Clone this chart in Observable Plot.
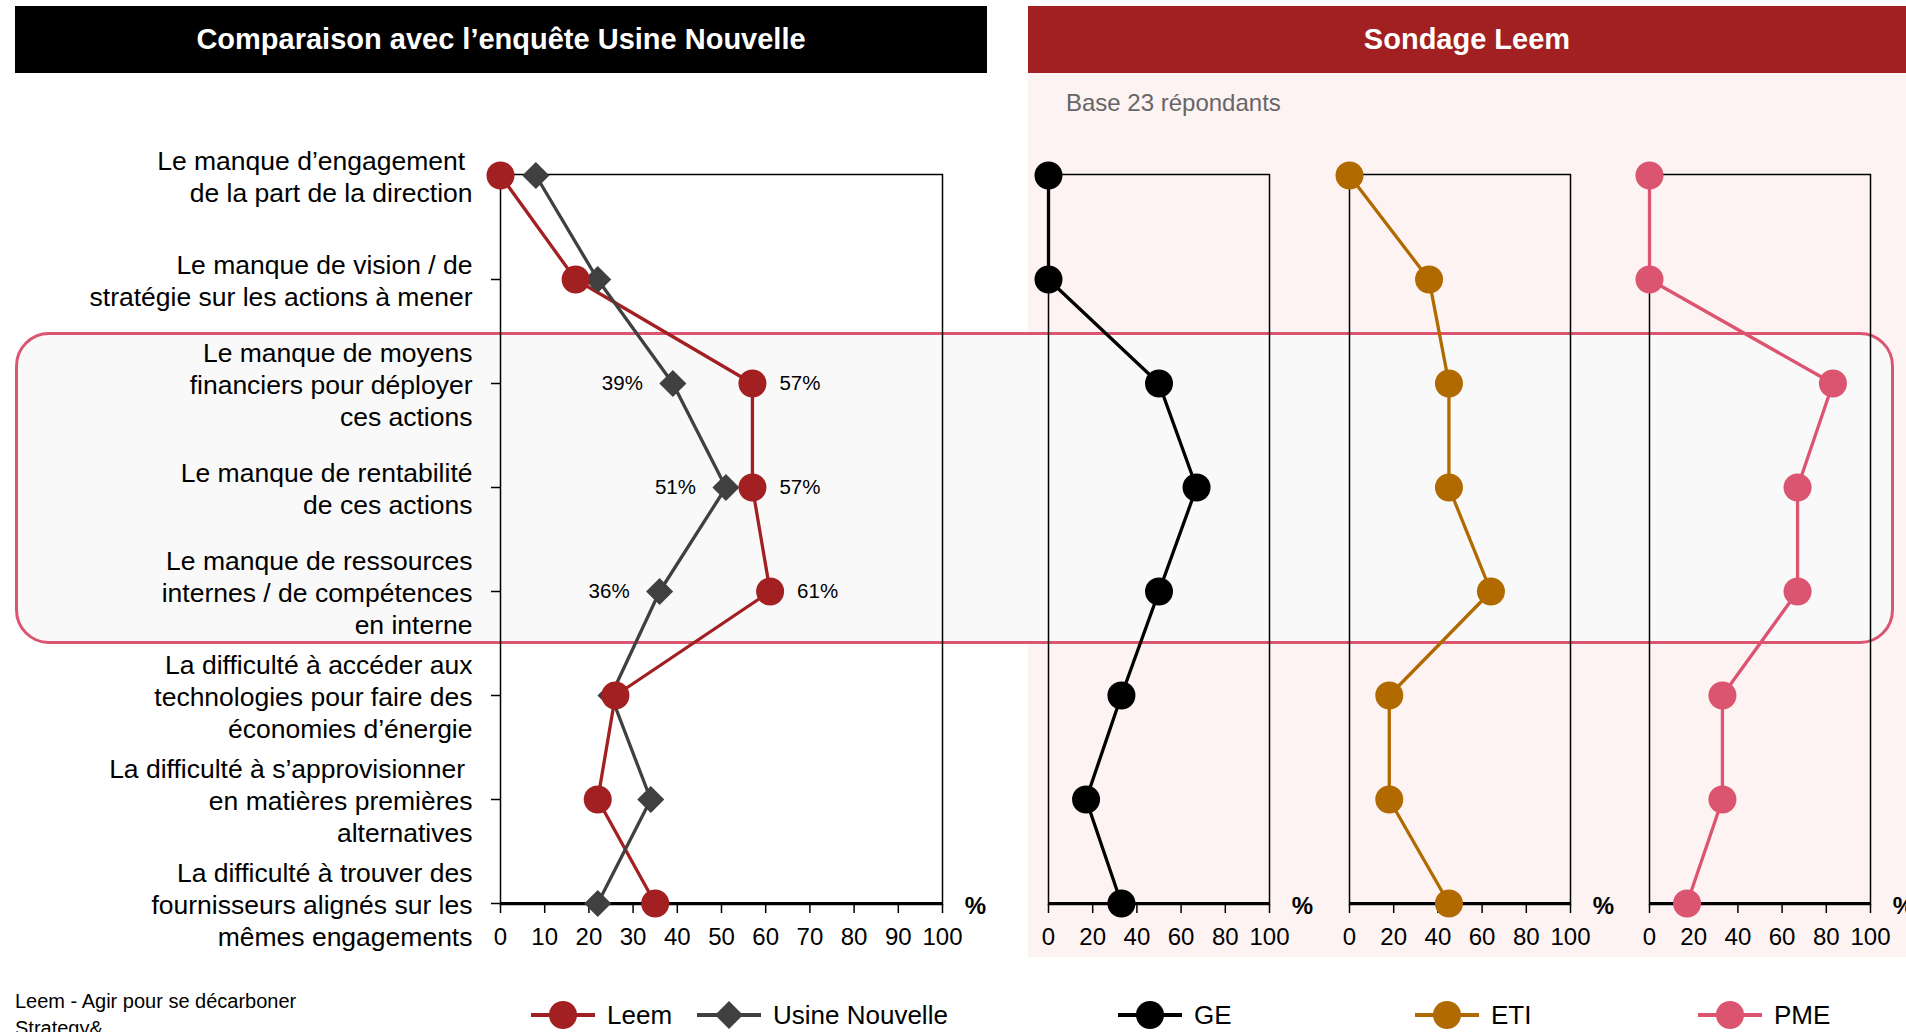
<!DOCTYPE html>
<html><head><meta charset="utf-8">
<script src="https://cdn.jsdelivr.net/npm/d3@7"></script>
<script src="https://cdn.jsdelivr.net/npm/@observablehq/plot@0.6"></script>
<style>
html,body{margin:0;padding:0;width:1906px;height:1032px;overflow:hidden;background:#fff;font-family:"Liberation Sans",Arial,sans-serif;}
#root{position:relative;width:1906px;height:1032px;overflow:hidden;}
.abs{position:absolute;}
.chart svg{max-width:none !important;}
.hdr{position:absolute;top:6px;height:67px;display:flex;align-items:center;justify-content:center;color:#fff;font-weight:bold;font-size:29px;}
.leg{position:absolute;top:999px;height:32px;display:flex;align-items:center;font-size:26px;color:#000;white-space:nowrap;}
.leg svg{margin-right:12px;}
.foot{position:absolute;left:15px;font-size:20px;color:#000;white-space:nowrap;}
</style></head><body><div id="root">
<div class="abs" style="left:1028px;top:73px;width:878px;height:884px;background:#fdf3f3;"></div>
<div class="abs" style="left:15px;top:332px;width:1873px;height:306px;background:#f9f9f9;border:3px solid #dc5570;border-radius:34px;"></div>
<div class="hdr" style="left:15px;width:972px;background:#000;">Comparaison avec l’enquête Usine Nouvelle</div>
<div class="hdr" style="left:1028px;width:878px;background:#a21f22;">Sondage Leem</div>
<div class="abs" style="left:1066px;top:89px;font-size:24px;color:#666;">Base 23 répondants</div>
<div id="cLeft" class="abs chart" style="left:0;top:100px;width:1010px;height:880px;"></div>
<div id="cGE" class="abs chart" style="left:1028px;top:100px;width:301px;height:880px;"></div>
<div id="cETI" class="abs chart" style="left:1329px;top:100px;width:301px;height:880px;"></div>
<div id="cPME" class="abs chart" style="left:1629px;top:100px;width:301px;height:880px;"></div>
<div id="legend"></div>
<div class="foot" style="top:990px;">Leem - Agir pour se décarboner</div>
<div class="foot" style="top:1017px;">Strategy&amp;</div>
</div>
<script>
const categories = [
  "Le manque d’engagement\u00a0\nde la part de la direction",
  "Le manque de vision / de\nstratégie sur les actions à mener",
  "Le manque de moyens\nfinanciers pour déployer\nces actions",
  "Le manque de rentabilité\nde ces actions",
  "Le manque de ressources\ninternes / de compétences\nen interne",
  "La difficulté à accéder aux\ntechnologies pour faire des\néconomies d’énergie",
  "La difficulté à s’approvisionner\u00a0\nen matières premières\nalternatives",
  "La difficulté à trouver des\nfournisseurs alignés sur les\nmêmes engagements"
];
const leem          = [0, 17, 57, 57, 61, 26, 22, 35];
const usineNouvelle = [8, 22, 39, 51, 36, 25, 34, 22];
const ge  = [0, 0, 50, 67, 50, 33, 17, 33];
const eti = [0, 36, 45, 45, 64, 18, 18, 45];
const pme = [0, 0, 83, 67, 67, 33, 33, 17];
const labelledRows = [2, 3, 4];
const ticksLeft  = [0, 10, 20, 30, 40, 50, 60, 70, 80, 90, 100];
const ticksRight = [0, 20, 40, 60, 80, 100];
const seriesNames = ["Leem", "Usine Nouvelle", "GE", "ETI", "PME"];

const RED = "#a21f22", GRAY = "#404040", BLACK = "#000000", ORANGE = "#b06a00", PINK = "#dc5570";
const FONT = '"Liberation Sans", Arial, sans-serif';

const rows = categories.map((c, i) => ({cat: c, i, leem: leem[i], un: usineNouvelle[i], ge: ge[i], eti: eti[i], pme: pme[i]}));
const lastCat = categories[categories.length - 1];
const styleOpt = {fontFamily: FONT, fontSize: "24px", background: "transparent", color: "#000", overflow: "visible", maxWidth: "none"};

const left = Plot.plot({
  width: 1010, height: 880,
  marginLeft: 500, marginRight: 68, marginTop: 74, marginBottom: 76,
  style: styleOpt,
  x: {domain: [0, 100]},
  y: {domain: categories, type: "point", padding: 0},
  marks: [
    Plot.frame({stroke: "#000", strokeWidth: 1.5}),
    Plot.ruleY([lastCat], {stroke: "#000", strokeWidth: 3}),
    Plot.axisX(ticksLeft, {tickSize: 9, tickPadding: 14, fontSize: 24, strokeWidth: 1.5, label: null, fill: "#000"}),
    Plot.axisY({tickSize: 9, tickFormat: () => "", label: null, strokeWidth: 1.5}),
    Plot.text(rows, {y: "cat", text: "cat", frameAnchor: "left", dx: -28, textAnchor: "end", lineHeight: 1.21, fontSize: 26.5, fill: "#000"}),
    Plot.text(["%"], {text: d => d, frameAnchor: "bottom-right", dx: 33, dy: 2, textAnchor: "middle", lineAnchor: "middle", fontWeight: "bold", fontSize: 24}),
    Plot.line(rows, {x: "leem", y: "cat", stroke: RED, strokeWidth: 3.3}),
    Plot.line(rows, {x: "un", y: "cat", stroke: GRAY, strokeWidth: 3.3}),
    Plot.dot(rows, {x: "un", y: "cat", r: 12.2, symbol: "diamond2", fill: GRAY, stroke: null}),
    Plot.dot(rows, {x: "leem", y: "cat", r: 14, fill: RED, stroke: null}),
    Plot.text(rows.filter(d => labelledRows.includes(d.i)), {x: "leem", y: "cat", text: d => d.leem + "%", dx: 27, textAnchor: "start", fontSize: 20.5, fill: "#000"}),
    Plot.text(rows.filter(d => labelledRows.includes(d.i)), {x: "un", y: "cat", text: d => d.un + "%", dx: -30, textAnchor: "end", fontSize: 20.5, fill: "#000"})
  ]
});
document.getElementById("cLeft").append(left);

function panel(key, color) {
  return Plot.plot({
    width: 301, height: 880,
    marginLeft: 20, marginRight: 60, marginTop: 74, marginBottom: 76,
    style: styleOpt,
    x: {domain: [0, 100]},
    y: {domain: categories, type: "point", padding: 0, axis: null},
    marks: [
      Plot.frame({stroke: "#000", strokeWidth: 1.5}),
      Plot.ruleY([lastCat], {stroke: "#000", strokeWidth: 3}),
      Plot.axisX(ticksRight, {tickSize: 9, tickPadding: 14, fontSize: 24, strokeWidth: 1.5, label: null, fill: "#000"}),
      Plot.text(["%"], {text: d => d, frameAnchor: "bottom-right", dx: 33, dy: 2, textAnchor: "middle", lineAnchor: "middle", fontWeight: "bold", fontSize: 24}),
      Plot.line(rows, {x: key, y: "cat", stroke: color, strokeWidth: 3.3}),
      Plot.dot(rows, {x: key, y: "cat", r: 14, fill: color, stroke: null})
    ]
  });
}
document.getElementById("cGE").append(panel("ge", BLACK));
document.getElementById("cETI").append(panel("eti", ORANGE));
document.getElementById("cPME").append(panel("pme", PINK));

// legend
const legendItems = [
  {name: seriesNames[0], color: RED, shape: "circle", left: 531},
  {name: seriesNames[1], color: GRAY, shape: "diamond", left: 697},
  {name: seriesNames[2], color: BLACK, shape: "circle", left: 1118},
  {name: seriesNames[3], color: ORANGE, shape: "circle", left: 1415},
  {name: seriesNames[4], color: PINK, shape: "circle", left: 1698}
];
const leg = document.getElementById("legend");
for (const it of legendItems) {
  const div = document.createElement("div");
  div.className = "leg";
  div.style.left = it.left + "px";
  const marker = it.shape === "circle"
    ? `<circle cx="32" cy="16" r="14" fill="${it.color}"/>`
    : `<path d="M32,2 L46,16 L32,30 L18,16 Z" fill="${it.color}"/>`;
  div.innerHTML = `<svg width="64" height="32"><line x1="0" x2="64" y1="16" y2="16" stroke="${it.color}" stroke-width="4"/>${marker}</svg><span>${it.name}</span>`;
  leg.append(div);
}
</script>
</body></html>
